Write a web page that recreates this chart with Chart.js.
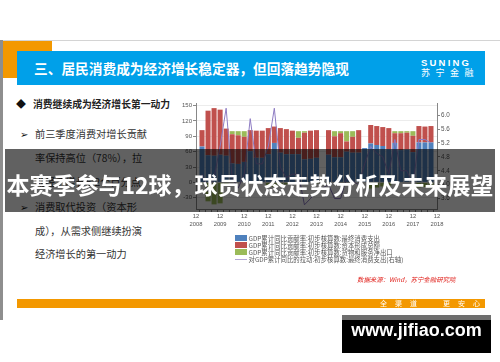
<!DOCTYPE html>
<html lang="zh-CN">
<head>
<meta charset="utf-8">
<title>居民消费成为经济增长稳定器</title>
<script src="https://cdn.jsdelivr.net/npm/chart.js@4.4.1/dist/chart.umd.min.js"></script>
<style>
  html, body { margin: 0; padding: 0; background: #fff; }
  body { width: 500px; height: 362px; position: relative; overflow: hidden; font-family: "Noto Sans CJK SC", "Noto Sans", sans-serif; }
  .abs { position: absolute; white-space: nowrap; }
  #topLine { left: 0; top: 40px; width: 500px; height: 1px; background: #d4d4d4; }
  #leftBar { left: 0; top: 40px; width: 3px; height: 280px; background: #8e8e8e; }
  #orangeSq { left: 3px; top: 41px; width: 49px; height: 37px; background: #f39800; }
  #titleBar { left: 17px; top: 51px; width: 468px; height: 34px; background: #00a0e9; }
  #title { left: 34px; top: 51px; line-height: 34px; color: #fff; font-weight: bold; font-size: 13.7px; }
  #brand1 { left: 421px; top: 57px; color: #fff; font: bold 9.5px "Liberation Sans", sans-serif; letter-spacing: 2.2px; }
  #brand2 { left: 421px; top: 67px; color: #fff; font-size: 9px; line-height: 11px; letter-spacing: 5.5px; }
  .txt { left: 35px; font-size: 10.2px; color: #333; line-height: 16px; }
  .mark { font-size: 10px; color: #111; line-height: 16px; }
  #chartBox { left: 170px; top: 95px; width: 295px; height: 140px; }
  .legRow { left: 235px; height: 7px; font-size: 6.4px; line-height: 7px; color: #555; }
  .legRow span { display: inline-block; vertical-align: top; }
  .legBox { width: 12px; height: 5.5px; margin-top: 0.5px; margin-right: 1.5px; }
  .legLine { width: 12px; height: 1px; margin-top: 3px; margin-right: 1.5px; }
  #source { left: 357px; top: 276px; font-size: 6.4px; line-height: 8px; color: #e0201b; font-style: italic; }
  #footer { left: 17px; top: 299px; width: 468px; height: 9px; background: #f39800; }
  .foot { top: 299px; font-size: 7px; line-height: 9px; color: #fff; }
  #band { left: 5px; top: 149px; width: 490px; height: 63px; background: rgba(0, 0, 0, 0.62); color: #fff; font-weight: bold; font-size: 23px; line-height: 70px; text-align: center; }
  #site { left: 342px; top: 315px; width: 149px; height: 38px; background: #000; }
  #siteTop { left: 342px; top: 315px; width: 149px; height: 5px; background: #6e6e6e; }
  #siteText { left: 342px; top: 320px; width: 149px; line-height: 33px; text-align: center; color: #fff; font: bold 18px "Liberation Sans", sans-serif; }
</style>
</head>
<body>
<div class="abs" id="topLine"></div>
<div class="abs" id="leftBar"></div>
<div class="abs" id="orangeSq"></div>
<div class="abs" id="titleBar"></div>
<div class="abs" id="title">三、居民消费成为经济增长稳定器，但回落趋势隐现</div>
<div class="abs" id="brand1">SUNING</div>
<div class="abs" id="brand2">苏宁金融</div>

<div class="abs mark" style="left:16px; top:96px;">◆</div>
<div class="abs txt" style="left:33px; top:96px; font-weight:bold; font-size:9.8px; color:#222;">消费继续成为经济增长第一动力</div>
<div class="abs mark" style="left:20px; top:126px;">➢</div>
<div class="abs txt" style="top:126px;">前三季度消费对增长贡献</div>
<div class="abs txt" style="top:150px;">率保持高位（78%），拉</div>
<div class="abs txt" style="top:174px;">动经济增长5.2个百分点</div>
<div class="abs mark" style="left:20px; top:199px;">➢</div>
<div class="abs txt" style="top:199px;">消费取代投资（资本形</div>
<div class="abs txt" style="top:223px;">成），从需求侧继续扮演</div>
<div class="abs txt" style="top:246px;">经济增长的第一动力</div>

<div class="abs" id="chartBox"><canvas id="contribChart" width="295" height="140"></canvas></div>
<div id="legend"></div>
<div class="abs" id="source">数据来源：Wind，苏宁金融研究院</div>

<div class="abs" id="footer"></div>
<div class="abs foot" style="left:380px;">全</div>
<div class="abs foot" style="left:395px;">渠</div>
<div class="abs foot" style="left:410px;">道</div>
<div class="abs foot" style="left:443px;">更</div>
<div class="abs foot" style="left:458px;">安</div>
<div class="abs foot" style="left:473px;">心</div>

<div class="abs" id="band">本赛季参与12球，球员状态走势分析及未来展望</div>
<div class="abs" id="site"></div>
<div class="abs" id="siteTop"></div>
<div class="abs" id="siteText">www.jifiao.com</div>

<script>
// x axis: one category per quarter, 2008-12 .. 2018-12, labelled every December
const tickYears = ['2008', '2009', '2010', '2011', '2012', '2013', '2014', '2015', '2016', '2017', '2018'];
const quarterMonths = ['03', '06', '09', '12'];
const leftTicks = [-30, 0, 30, 60, 90, 120, 150];
const rightTicks = [3.6, 4.0, 4.4, 4.8, 5.2, 5.6, 6.0];

const seriesNames = [
  'GDP累计同比贡献率:初步核算数:最终消费支出',
  'GDP累计同比贡献率:初步核算数:资本形成总额',
  'GDP累计同比贡献率:初步核算数:货物和服务净出口',
  '对GDP累计同比的拉动:初步核算数:最终消费支出(右轴)'
];
const seriesColors = ['#4f81bd', '#c0504d', '#9bbb59', '#8e7cc3'];

// values per quarter, first entry is 2008-12, last is 2018-12
const consumption = [null,
  70, 53, 52, 54,
  52, 37, 36, 40,
  61, 48, 48, 55,
  77, 58, 55, 55,
  55, 45, 46, 48,
  null, 54, 49, 49,
  60, 58, 58, 67,
  76, 73, 71, 65,
  77, 63, 64, 59,
  78, 78, 78, null];
const capital = [null,
  32, 87, 93, 88,
  53, 57, 56, 49,
  41, 53, 53, 51,
  32, 48, 49, 46,
  32, 52, 55, 54,
  null, 48, 41, 47,
  20, 31, 44, null,
  36, 37, 37, 41,
  19, 33, 33, 32,
  32, 31, 32, null];
const netExports = [null,
  -2, -37, -43, -41,
  -5, 6, 8, 11,
  -2, -1, -1, -6,
  -9, -6, -4, -1,
  13, 3, -1, -2,
  null, -2, 10, 4,
  20, 11, -2, null,
  -12, -10, -8, -6,
  4, 4, 3, 9,
  -10, -9, -10, null];
const consumptionPull = [null,
  4.3, 3.8, 4.2, 5.1,
  6.2, 4.2, 3.9, 4.3,
  5.9, 4.6, 4.6, 5.1,
  6.2, 4.5, 4.2, 4.3,
  4.3, 3.42, 3.6, 3.8,
  null, 4.0, 3.6, 3.6,
  4.2, 4.1, 4.0, 4.6,
  5.1, 4.9, 4.8, 4.3,
  5.3, 4.4, 4.4, 4.0,
  5.3, 5.3, 5.2, null];

const quarters = ['2008-12'];
tickYears.slice(1).forEach(year => quarterMonths.forEach(m => quarters.push(`${year}-${m}`)));

Chart.defaults.font.family = '"Liberation Sans", Arial, sans-serif';
Chart.defaults.color = '#555';

const buildLegend = () => {
  const legend = document.getElementById('legend');
  const rowTops = [234.5, 241.5, 248.5, 255.5];
  seriesNames.forEach((name, i) => {
    const row = document.createElement('div');
    row.className = 'abs legRow';
    row.style.top = rowTops[i] + 'px';
    const sym = document.createElement('span');
    sym.className = i < 3 ? 'legBox' : 'legLine';
    sym.style.background = i < 3 ? seriesColors[i] : '#b4a7d6';
    const label = document.createElement('span');
    label.innerText = name;
    row.appendChild(sym);
    row.appendChild(label);
    legend.appendChild(row);
  });
};

const barSet = (i, values) => ({
  type: 'bar',
  label: seriesNames[i],
  data: values,
  backgroundColor: seriesColors[i],
  borderWidth: 0,
  categoryPercentage: 1,
  barPercentage: 0.84,
  yAxisID: 'y',
  stack: 'gdp',
  order: 1
});

const displayContribChart = () => {
  new Chart(document.getElementById('contribChart'), {
    data: {
      labels: quarters,
      datasets: [
        {
          type: 'line',
          label: seriesNames[3],
          data: consumptionPull,
          borderColor: seriesColors[3],
          borderWidth: 1,
          pointRadius: 0,
          spanGaps: true,
          tension: 0,
          yAxisID: 'y1',
          order: 0
        },
        barSet(0, consumption),
        barSet(1, capital),
        barSet(2, netExports)
      ]
    },
    options: {
      responsive: false,
      devicePixelRatio: 1,
      animation: false,
      layout: { padding: { top: 8, left: 0, right: 0, bottom: 0 } },
      plugins: { legend: { display: false }, tooltip: { enabled: false } },
      scales: {
        x: {
          type: 'category',
          stacked: true,
          offset: false,
          grid: { drawOnChartArea: false, tickLength: 3, color: '#888' },
          border: { color: '#888' },
          ticks: {
            autoSkip: false,
            maxRotation: 0,
            padding: 0,
            font: { size: 5.8, lineHeight: 1.45 },
            callback: (v, i) => i % 4 === 0 ? ['12', tickYears[i / 4]] : ''
          },
          afterFit: scale => { scale.height = 26; }
        },
        y: {
          position: 'left',
          stacked: true,
          min: -52,
          max: 155,
          afterBuildTicks: scale => { scale.ticks = leftTicks.map(v => ({ value: v })); },
          grid: { color: '#ececec', tickLength: 3, tickColor: '#888' },
          border: { color: '#888' },
          ticks: { padding: 1, font: { size: 6 } },
          afterFit: scale => { scale.width = 26; }
        },
        y1: {
          position: 'right',
          min: 3.3,
          max: 6.35,
          afterBuildTicks: scale => { scale.ticks = rightTicks.map(v => ({ value: v })); },
          grid: { drawOnChartArea: false, tickLength: 3, color: '#888' },
          border: { color: '#888' },
          ticks: { padding: 1, font: { size: 6.3 }, callback: v => v.toFixed(1) },
          afterFit: scale => { scale.width = 28; }
        }
      }
    }
  });
};

buildLegend();
displayContribChart();
</script>
</body>
</html>
